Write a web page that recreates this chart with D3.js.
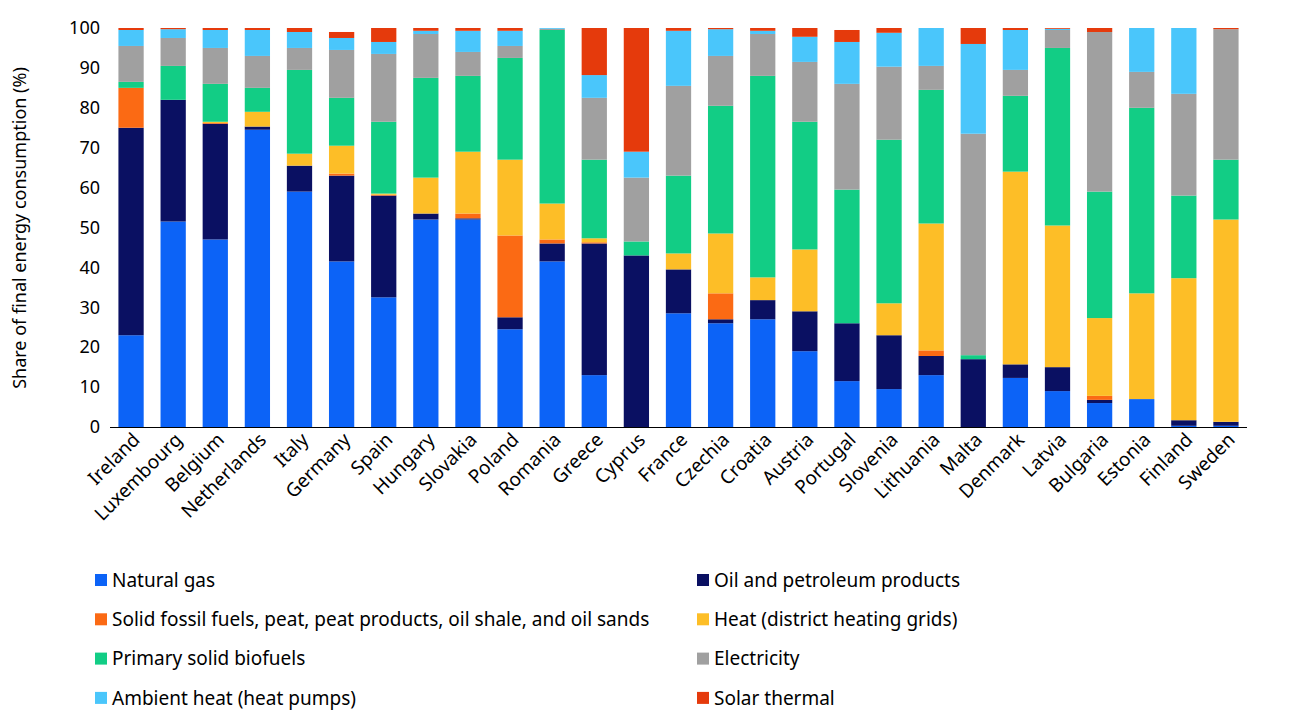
<!DOCTYPE html>
<html><head><meta charset="utf-8">
<script src="https://cdn.jsdelivr.net/npm/d3@7"></script>
<style>body{margin:0;background:#fff}text{font-family:"Noto Sans",sans-serif}</style>
</head><body>
<script>
const countries = ["Ireland","Luxembourg","Belgium","Netherlands","Italy","Germany","Spain","Hungary","Slovakia","Poland","Romania","Greece","Cyprus","France","Czechia","Croatia","Austria","Portugal","Slovenia","Lithuania","Malta","Denmark","Latvia","Bulgaria","Estonia","Finland","Sweden"];
const seriesNames = ["Natural gas","Oil and petroleum products","Solid fossil fuels, peat, peat products, oil shale, and oil sands","Heat (district heating grids)","Primary solid biofuels","Electricity","Ambient heat (heat pumps)","Solar thermal"];
const colors = ["#0c63f7","#0a1062","#fb6a14","#fdbe27","#12cd85","#a0a0a0","#4ac6fb","#e53a0c"];
const gas     = [23,51.5,47,74.5,59,41.5,32.5,52,52,24.5,41.5,13,0,28.5,26,27,19,11.5,9.5,13,0,12.3,9,6,7,0.3,0.3];
const oil     = [52,30.5,29,0.8,6.5,21.5,25.5,1.5,0.3,3,4.5,33,43,11,1,4.8,10,14.5,13.5,4.8,17,3.4,6,0.8,0,1.4,1];
const solid   = [10,0,0.2,0,0,0.5,0.2,0,1.2,20.5,1,0.3,0,0,6.5,0,0,0,0,1.4,0,0,0,1,0,0,0];
const heat    = [0,0,0.3,3.7,3,7,0.3,9,15.5,19,9,1,0,4,15,5.7,15.5,0,8,31.8,0,48.3,35.5,19.5,26.5,35.6,50.7];
const biofuel = [1.5,8.5,9.5,6,21,12,18,25,19,25.5,43.5,19.7,3.5,19.5,32,50.5,32,33.5,41,33.5,1,19,44.5,31.7,46.5,20.7,15];
const elec    = [9,7,9,8,5.5,12,17,11,6,3,0.3,15.5,16,22.5,12.5,10.5,15,26.5,18.3,6,55.5,6.5,4.5,40,9,25.5,32.7];
const ambient = [4,2.2,4.5,6.5,4,3,3,0.8,5.3,3.8,0.2,5.7,6.5,13.8,6.7,0.8,6.3,10.5,8.5,9.5,22.5,10,0.3,0,11,16.5,0];
const solar   = [0.5,0.3,0.5,0.5,1,1.5,3.5,0.7,0.7,0.7,0,11.8,31,0.7,0.3,0.7,2.2,3,1.2,0,4,0.5,0.2,1,0,0,0.3];
const yTicks = [0,10,20,30,40,50,60,70,80,90,100];

const series = [gas,oil,solid,heat,biofuel,elec,ambient,solar];
const rows = countries.map((c,i)=>{const r={country:c};seriesNames.forEach((s,j)=>r[s]=series[j][i]);return r;});
const stacked = d3.stack().keys(seriesNames)(rows);

const svg = d3.select("body").append("svg").attr("width",1300).attr("height",717);
const x = d3.scaleBand().domain(countries).range([110,1247]).paddingInner(0.4).paddingOuter(0.2);
const y = d3.scaleLinear().domain([0,100]).range([427,28]);

svg.append("g").selectAll("g").data(stacked).join("g").attr("fill",(d,i)=>colors[i])
  .selectAll("rect").data(d=>d).join("rect")
  .attr("x",d=>x(d.data.country)).attr("width",x.bandwidth())
  .attr("y",d=>y(d[1])).attr("height",d=>Math.max(0,y(d[0])-y(d[1])));

const ya = svg.append("g").attr("transform","translate(110,0)")
  .call(d3.axisLeft(y).tickValues(yTicks).tickSize(0).tickPadding(10));
ya.select(".domain").remove();
ya.selectAll("text").style("font-size","18px").attr("fill","#000");

const xa = svg.append("g").attr("transform","translate(0,427)")
  .call(d3.axisBottom(x).tickSize(0).tickPadding(0));
xa.select(".domain").attr("stroke","#000").attr("d","M110,0.5H1247");
xa.selectAll("text").style("font-size","19px").attr("fill","#000")
  .attr("text-anchor","end").attr("dy","0").attr("transform","translate(10,14) rotate(-45)");

svg.append("text").attr("transform","translate(26,228) rotate(-90)").attr("text-anchor","middle")
  .style("font-size","18px").text("Share of final energy consumption (%)");

const leg = svg.append("g").selectAll("g").data(seriesNames).join("g")
  .attr("transform",(d,i)=>`translate(${i%2?697:95},${580+Math.floor(i/2)*39.3})`);
leg.append("rect").attr("x",0).attr("y",-6).attr("width",12).attr("height",12).attr("fill",(d,i)=>colors[i]);
leg.append("text").attr("x",17).attr("y",0).attr("dy","0.35em").style("font-size","19px").text(d=>d);
</script>
</body></html>
